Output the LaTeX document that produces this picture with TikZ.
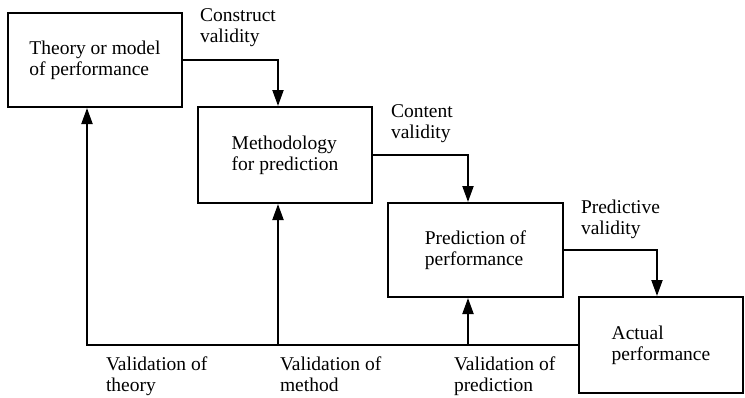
\documentclass[tikz,border=0pt]{standalone}
\usepackage{fontspec}
\setmainfont{Liberation Serif}
\usetikzlibrary{arrows.meta}
\tikzset{
  box/.style={draw,line width=2pt,minimum width=#1,align=left,inner sep=0pt},
  lbl/.style={anchor=north west,align=left,inner sep=0pt},
  >={Triangle[length=16pt,width=11pt]}
}
\begin{document}
\begin{tikzpicture}[x=1pt,y=-1pt,line width=2pt,font=\fontsize{19.5}{21}\selectfont]
\useasboundingbox (0,0) rectangle (745,397);
\node[box=174pt,minimum height=94pt] (theory) at (95,60) {Theory or model\\of performance};
\node[box=174pt,minimum height=96pt] (method) at (285,155) {Methodology\\for prediction};
\node[box=175pt,minimum height=94pt] (predict) at (475.5,250) {Prediction of\\performance};
\node[box=164pt,minimum height=96pt] (actual) at (661,345) {Actual\\performance};
\coordinate (corner) at (87,345);
\coordinate (tapM) at (278,345);
\coordinate (tapP) at (468,345);
\node[lbl] (construct) at (199,7.5) {Construct\\validity};
\node[lbl] (content) at (390,103.5) {Content\\validity};
\node[lbl] (predictive) at (580,198.5) {Predictive\\validity};
\node[lbl] (valtheory) at (105,356) {Validation of\\theory};
\node[lbl] (valmethod) at (279,356) {Validation of\\method};
\node[lbl] (valpredict) at (453,356) {Validation of\\prediction};
\draw[->] (theory.east) -| ([xshift=-7pt]method.north);
\draw[->] (method.east) -| ([xshift=-7.5pt]predict.north);
\draw[->] (predict.east) -| ([xshift=-4pt]actual.north);
\draw[->] (actual.west) -- (corner) -- (corner |- theory.south);
\draw[->] (tapM) -- (tapM |- method.south);
\draw[->] (tapP) -- (tapP |- predict.south);
\end{tikzpicture}
\end{document}
